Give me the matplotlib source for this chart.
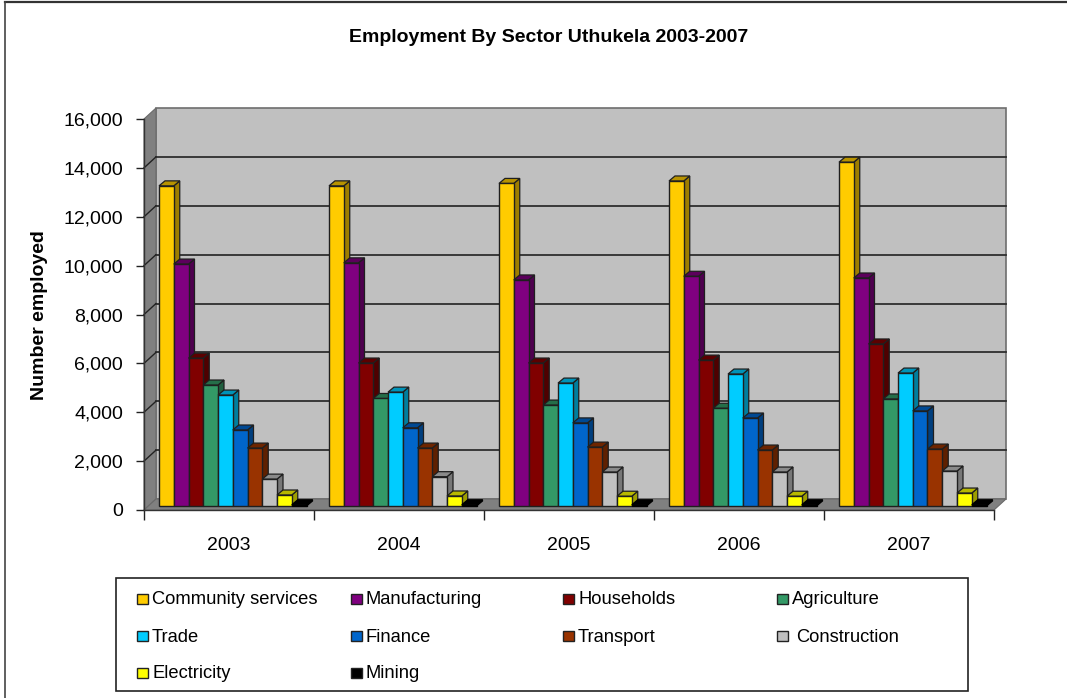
import matplotlib
matplotlib.use("Agg")
import matplotlib.pyplot as plt
from matplotlib.patches import Polygon, Rectangle
from matplotlib.lines import Line2D
from matplotlib.transforms import Affine2D, IdentityTransform
import matplotlib.colors as mc
import numpy as np

plt.rcParams['font.family'] = ['Liberation Sans', 'DejaVu Sans']

W, H = 1067, 698
years = ['2003', '2004', '2005', '2006', '2007']
sectors = ['Community services', 'Manufacturing', 'Households', 'Agriculture', 'Trade',
           'Finance', 'Transport', 'Construction', 'Electricity', 'Mining']
colors = ['#FFCC00', '#800080', '#800000', '#339966', '#00CCFF',
          '#0066CC', '#993300', '#C0C0C0', '#FFFF00', '#000000']
community = [13100, 13100, 13200, 13300, 14070]
manufacturing = [9900, 9950, 9250, 9400, 9330]
households = [6050, 5850, 5850, 5970, 6630]
agriculture = [4950, 4400, 4130, 4000, 4380]
trade = [4540, 4660, 5030, 5400, 5440]
finance = [3110, 3200, 3400, 3600, 3890]
transport = [2370, 2370, 2410, 2290, 2330]
construction = [1100, 1200, 1390, 1390, 1430]
electricity = [450, 410, 400, 400, 530]
mining = [50, 50, 50, 50, 50]
series = [community, manufacturing, households, agriculture, trade,
          finance, transport, construction, electricity, mining]

fig = plt.figure(figsize=(W / 100, H / 100), dpi=100, facecolor='white')
ax = fig.add_axes([144 / W, (H - 510) / H, 850 / W, 391 / H])
ax.set_xlim(0, 5)
ax.set_ylim(0, 16000)
ax.patch.set_visible(False)
for s in ['top', 'right']:
    ax.spines[s].set_visible(False)
for s in ['left', 'bottom']:
    ax.spines[s].set_linewidth(1.0)
    ax.spines[s].set_color('#333333')
    ax.spines[s].set_zorder(20)


def shifted(dx, dy):
    """Data transform pushed back into the chart's depth by dx, dy pixels."""
    return ax.transData + Affine2D().translate(dx, dy)


# Chart walls and floor, drawn as an oblique box
DEPTH = np.array([12, 11])
back = shifted(*DEPTH)
ax.add_patch(Rectangle((0, 0), 5, 16000, transform=back, fc='#C0C0C0', ec='#6E6E6E', lw=1.2,
                       clip_on=False, zorder=1))
p0 = ax.transData.transform((0, 0))
p1 = ax.transData.transform((0, 16000))
p2 = ax.transData.transform((5, 0))
ident = IdentityTransform()
ax.add_patch(Polygon([p0, p1, p1 + DEPTH, p0 + DEPTH], closed=True, fc='#808080', ec='#6A6A6A',
                     lw=0.8, transform=ident, clip_on=False, zorder=1.2))
ax.add_patch(Polygon([p0, p2, p2 + DEPTH, p0 + DEPTH], closed=True, fc='#808080', ec='#6A6A6A',
                     lw=0.8, transform=ident, clip_on=False, zorder=1.2))

# Gridlines on the back wall, and the slanted ones on the left wall
ticks = np.arange(0, 16001, 2000)
for t in ticks[1:-1]:
    ax.plot([0, 5], [t, t], color='#2E2E2E', lw=1.3, transform=back, clip_on=False, zorder=2)
    a = ax.transData.transform((0, t))
    ax.plot([a[0], a[0] + DEPTH[0]], [a[1], a[1] + DEPTH[1]], color='#222222', lw=1.0,
            transform=ident, clip_on=False, zorder=2)

ax.set_xticks(np.arange(6))
ax.set_xticklabels([])
ax.set_yticks(ticks)
ax.set_yticklabels([f'{t:,}' for t in ticks], fontsize=14)
ax.tick_params(axis='y', length=6, width=1, pad=9, color='#222222')
ax.tick_params(axis='x', length=7, width=1, color='#222222', direction='out')
for i, y in enumerate(years):
    ax.text(i + 0.5, -1470, y, ha='center', va='center', fontsize=14, color='black')

ax.set_ylabel('Number employed', fontsize=14, fontweight='bold')
ax.yaxis.set_label_coords((48 - 144) / 850, 0.499)


def shade(c, f):
    return tuple(x * f for x in mc.to_rgb(c))


# Bars are painted left to right: side, then top, then the front face from ax.bar
bar_w = 14.75 / 170
start = 15 / 170
FRONT = (0, 4)
BAR_D = (6, 5)
front = shifted(*FRONT)
u = 16000 / 391
xu = 5 / 850
dx, dy = BAR_D[0] * xu, BAR_D[1] * u
for i, (vals, col) in enumerate(zip(series, colors)):
    xs = np.arange(5) + start + i * bar_w
    z = 5 + i * 0.1
    edge = '#1F1F1F' if i != 9 else 'black'
    ax.bar(xs, vals, width=bar_w, align='edge', color=col, edgecolor=edge, linewidth=1.0,
           transform=front, clip_on=False, zorder=z + 0.02)
    for x, v in zip(xs, vals):
        ax.add_patch(Polygon([(x + bar_w, 0), (x + bar_w + dx, dy), (x + bar_w + dx, v + dy), (x + bar_w, v)],
                             closed=True, fc=shade(col, 0.62), ec=edge, lw=0.9, transform=front,
                             clip_on=False, zorder=z))
        ax.add_patch(Polygon([(x, v), (x + dx, v + dy), (x + bar_w + dx, v + dy), (x + bar_w, v)],
                             closed=True, fc=shade(col, 0.72), ec=edge, lw=0.9, transform=front,
                             clip_on=False, zorder=z + 0.01))

fig.text(549 / W, 1 - 38 / H, 'Employment By Sector Uthukela 2003-2007', ha='center', va='center',
         fontsize=14, fontweight='bold')


def fig_rect(x0, y0, x1, y1, **kw):
    fig.add_artist(Rectangle((x0 / W, 1 - y1 / H), (x1 - x0) / W, (y1 - y0) / H,
                             transform=fig.transFigure, **kw))


def fig_line(xs, ys, **kw):
    fig.add_artist(Line2D([x / W for x in xs], [1 - y / H for y in ys],
                          transform=fig.transFigure, **kw))


# Outer border: only its top and left edges fall inside the canvas
fig_line([5, 1067], [1.5, 1.5], color='#333333', lw=1.6)
fig_line([5, 5], [1.5, 698], color='#444444', lw=1.2)

# Legend laid out by hand in three rows of four columns
fig_rect(116, 578, 968, 691, fc='white', ec='#222222', lw=1.2)
col_x = [137, 351, 563, 777]
row_y = [599, 636, 673]
for i, (name, col) in enumerate(zip(sectors, colors)):
    cx = col_x[i % 4]
    cy = row_y[i // 4]
    fig_rect(cx, cy - 5, cx + 11, cy + 5, fc=col, ec='#222222', lw=1.0)
    pad = 19 if name == 'Construction' else 15
    fig.text((cx + pad) / W, 1 - (cy + 1) / H, name, ha='left', va='center', fontsize=13.2)

fig.savefig('out.png', dpi=100)
